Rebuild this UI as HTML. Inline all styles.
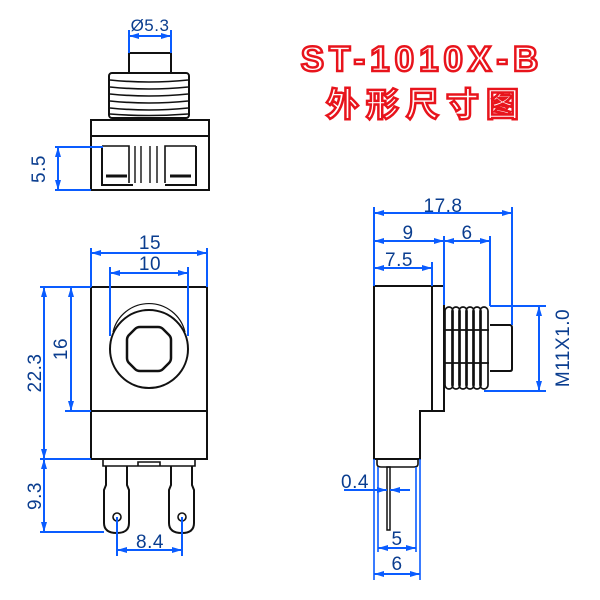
<!DOCTYPE html>
<html><head><meta charset="utf-8"><style>
html,body{margin:0;padding:0;background:#fff;}
svg{display:block;}
text{font-family:"Liberation Sans",sans-serif;}
</style></head><body>
<svg width="600" height="600" viewBox="0 0 600 600" xmlns="http://www.w3.org/2000/svg">
<defs>
<marker id="a" viewBox="0 0 10 6" refX="10" refY="3" markerWidth="10" markerHeight="6" orient="auto-start-reverse" markerUnits="userSpaceOnUse"><path d="M0,0 L10,3 L0,6 z" fill="#0a5cff"/></marker>
</defs>
<!-- Title -->
<text x="422" y="71" text-anchor="middle" font-size="35" font-weight="bold" fill="#fff" stroke="#e8141c" stroke-width="2.5" letter-spacing="5">ST-1010X-B</text>
<text x="426" y="116" text-anchor="middle" font-size="33" font-weight="bold" fill="#fff" stroke="#e8141c" stroke-width="2.5" style="font-family:'Liberation Sans','Noto Sans CJK SC',sans-serif" letter-spacing="7">外形尺寸图</text>

<g fill="none" stroke="#111" stroke-width="2">
<!-- Top view -->
<rect x="129" y="53" width="42" height="20"/>
<rect x="109" y="73" width="80" height="45" rx="3"/>
<path d="M110,80 Q149,84 188,80 M110,87 Q149,91 188,87 M110,94 Q149,98 188,94 M110,101 Q149,105 188,101 M110,108 Q149,112 188,108 M110,114 Q149,117 188,114" stroke-width="1.6"/>
<rect x="91" y="120" width="118" height="70"/>
<line x1="91" y1="136" x2="209" y2="136"/>
<path d="M102,146 V185 H133 M196,146 V185 H165"/>
<path d="M102,146 H129 V183 M196,146 H165 V183" stroke-width="1.6"/>
<path d="M135,146 V183 M141,146 V183 M150,146 V183 M157,146 V183" stroke-width="1.4"/>
<path d="M106,176 H127 M170,176 H191" stroke-width="3"/>

<!-- Front view -->
<rect x="91" y="287" width="116" height="172"/>
<line x1="91" y1="411" x2="207" y2="411"/>
<circle cx="149" cy="349" r="39"/>
<path d="M113,332 A37,37 0 0 1 185,332" stroke-width="1.2"/>
<path d="M140,327 H158 Q161,327 163,329 L169,335 Q171,337 171,340 V358 Q171,361 169,363 L163,369 Q161,371 158,371 H140 Q137,371 135,369 L129,363 Q127,361 127,358 V340 Q127,337 129,335 L135,329 Q137,327 140,327 Z" stroke-width="2.5"/>
<path d="M103,459 V466 H195 V459 M138,466 V462 H160 V466" stroke-width="1.6"/>
<path d="M106,466 V485 L104,490 V523 Q104,533 117,533 Q129,533 129,523 V490 L127,485 V466"/>
<path d="M171,466 V485 L169,490 V523 Q169,533 182,533 Q194,533 194,523 V490 L192,485 V466"/>
<circle cx="117" cy="517" r="4" stroke-width="1.6"/>
<circle cx="182" cy="517" r="4" stroke-width="1.6"/>

<!-- Side view -->
<path d="M374,286 H444 V411 H420 V459 H374 Z"/>
<line x1="432" y1="286" x2="432" y2="411"/>
<path d="M377,459 V464 Q377,467 381,467 H414 Q418,467 418,464 V459" stroke-width="1.6"/>
<rect x="387" y="467" width="3" height="63" stroke-width="1.5"/>
<path d="M490,325 H510 Q512,325 512,328 V369 Q512,371 510,371 H490"/>
<g stroke-width="1.7">
<rect x="445" y="307" width="8" height="82" rx="4"/>
<rect x="452" y="307" width="8" height="82" rx="4"/>
<rect x="459" y="307" width="8" height="82" rx="4"/>
<rect x="466" y="307" width="8" height="82" rx="4"/>
<rect x="473" y="307" width="8" height="82" rx="4"/>
<rect x="480" y="307" width="8" height="82" rx="4"/>
<path d="M445,330 H489 M445,363 H489"/>
</g>
</g>

<!-- Dimensions -->
<g stroke="#0a5cff" stroke-width="2" fill="none">
<path d="M129,30 V53 M171,30 V53"/>
<line x1="129" y1="36" x2="171" y2="36" marker-start="url(#a)" marker-end="url(#a)"/>
<path d="M55,147 H103 M55,190 H91"/>
<line x1="58" y1="147" x2="58" y2="190" marker-start="url(#a)" marker-end="url(#a)"/>
<path d="M91,248 V287 M207,248 V287 M110,267 V336 M188,267 V336"/>
<line x1="91" y1="253" x2="207" y2="253" marker-start="url(#a)" marker-end="url(#a)"/>
<line x1="110" y1="273" x2="188" y2="273" marker-start="url(#a)" marker-end="url(#a)"/>
<path d="M40,287 H91 M65,411 H91 M40,459 H91 M40,532 H104"/>
<line x1="44" y1="287" x2="44" y2="459" marker-start="url(#a)" marker-end="url(#a)"/>
<line x1="71" y1="287" x2="71" y2="411" marker-start="url(#a)" marker-end="url(#a)"/>
<line x1="44" y1="459" x2="44" y2="532" marker-start="url(#a)" marker-end="url(#a)"/>
<path d="M117,517 V556 M182,517 V556"/>
<line x1="117" y1="550" x2="182" y2="550" marker-start="url(#a)" marker-end="url(#a)"/>
<path d="M374,207 V286 M512,207 V325 M444,236 V305 M490,236 V306 M432,262 V286"/>
<line x1="374" y1="213" x2="512" y2="213" marker-start="url(#a)" marker-end="url(#a)"/>
<line x1="374" y1="241" x2="444" y2="241" marker-start="url(#a)" marker-end="url(#a)"/>
<line x1="444" y1="241" x2="490" y2="241" marker-start="url(#a)" marker-end="url(#a)"/>
<line x1="374" y1="268" x2="432" y2="268" marker-start="url(#a)" marker-end="url(#a)"/>
<path d="M490,306 H546 M484,391 H546"/>
<line x1="539" y1="306" x2="539" y2="391" marker-start="url(#a)" marker-end="url(#a)"/>
<path d="M374,459 V580 M420,459 V580 M378,467 V552 M416,467 V552" stroke-width="1.6"/>
<line x1="344" y1="490" x2="387" y2="490" marker-end="url(#a)"/>
<line x1="410" y1="490" x2="390" y2="490" marker-end="url(#a)"/>
<line x1="378" y1="548" x2="416" y2="548" marker-start="url(#a)" marker-end="url(#a)"/>
<line x1="374" y1="574" x2="420" y2="574" marker-start="url(#a)" marker-end="url(#a)"/>
</g>

<g fill="#0a3d8f" font-size="19" letter-spacing="0.5">
<text x="150" y="31" text-anchor="middle" font-size="17">Ø5.3</text>
<text transform="translate(45,169) rotate(-90)" text-anchor="middle">5.5</text>
<text x="150" y="249" text-anchor="middle">15</text>
<text x="150" y="270" text-anchor="middle">10</text>
<text transform="translate(41,373) rotate(-90)" text-anchor="middle">22.3</text>
<text transform="translate(67,349) rotate(-90)" text-anchor="middle">16</text>
<text transform="translate(41,496) rotate(-90)" text-anchor="middle">9.3</text>
<text x="150" y="548" text-anchor="middle">8.4</text>
<text x="443" y="212" text-anchor="middle">17.8</text>
<text x="408" y="239" text-anchor="middle">9</text>
<text x="467" y="239" text-anchor="middle">6</text>
<text x="399" y="266" text-anchor="middle">7.5</text>
<text transform="translate(569,348) rotate(-90)" text-anchor="middle">M11X1.0</text>
<text x="355" y="488" text-anchor="middle">0.4</text>
<text x="397" y="545" text-anchor="middle">5</text>
<text x="397" y="570" text-anchor="middle">6</text>
</g>
</svg>
</body></html>
